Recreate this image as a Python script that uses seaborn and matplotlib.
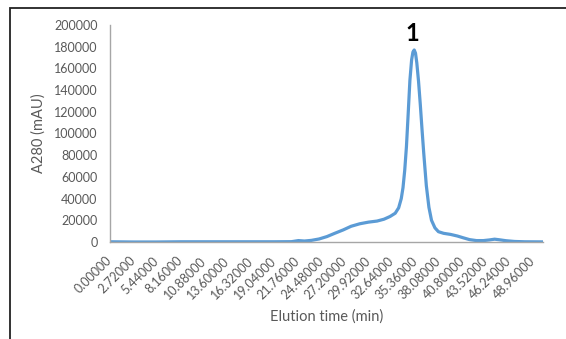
"""Size-exclusion chromatogram, A280 vs elution time"""

import seaborn as sns
import pandas as pd
import matplotlib.pyplot as plt
from matplotlib.patches import Rectangle

time_min = [0.0, 2.7, 5.4, 8.2, 10.9, 13.6, 16.3, 19.0, 21.0, 21.8, 22.5,
            23.3, 24.2, 25.1, 26.0, 27.0, 27.9, 28.9, 29.9, 30.9, 31.7, 32.4,
            33.0, 33.4, 33.7, 33.9, 34.1, 34.3, 34.5, 34.7, 34.9, 35.05, 35.2,
            35.35, 35.5, 35.7, 35.9, 36.1, 36.3, 36.6, 36.9, 37.2, 37.6, 38.0,
            38.6, 39.4, 40.2, 40.9, 41.6, 42.4, 43.2, 43.9, 44.5, 45.1, 45.8,
            46.8, 48.0, 50.1]
a280 = [200, 0, 0, 200, 200, 200, 200, 200, 300, 1300, 900,
        1500, 2800, 5000, 8000, 11200, 14500, 16800, 18300, 19300, 21000, 23500,
        26500, 31500, 40000, 50000, 66000, 88000, 118000, 149000, 168000, 175000, 177000,
        174000, 165000, 148000, 127000, 104000, 82000, 52000, 32000, 20000, 13000, 9500,
        8000, 7000, 5500, 3800, 2200, 1300, 1300, 1900, 2600, 2000, 1200,
        500, 200, 100]

x_ticks = [0.0, 2.72, 5.44, 8.16, 10.88, 13.6, 16.32, 19.04, 21.76, 24.48,
           27.2, 29.92, 32.64, 35.36, 38.08, 40.8, 43.52, 46.24, 48.96]
y_ticks = [0, 20000, 40000, 60000, 80000, 100000, 120000, 140000, 160000,
           180000, 200000]
peak_label = "1"
peak_pos = (35.0, 182000)

sns.set_style("white")
plt.rcParams['font.family'] = ['Lato', 'DejaVu Sans']

df = pd.DataFrame({"time": time_min, "a280": a280})

fig = plt.figure(figsize=(5.66, 3.39), dpi=100)
ax = fig.add_axes([110 / 566, 1 - 242 / 339, 433 / 566, 217 / 339])

sns.lineplot(data=df, x="time", y="a280", ax=ax, color="#5B9BD5", lw=2.3)

ax.set_xlim(0, 50.1)
ax.set_ylim(0, 200000)
ax.set_xticks(x_ticks)
ax.set_xticklabels([f"{t:.5f}" for t in x_ticks], rotation=45, ha="right",
                   va="center", rotation_mode="anchor")
ax.set_yticks(y_ticks)
ax.set_yticklabels([str(v) for v in y_ticks])
ax.tick_params(axis="both", length=0, labelsize=9, colors="#595959")
ax.tick_params(axis="x", pad=12)
ax.tick_params(axis="y", pad=9)

for side in ["top", "right"]:
    ax.spines[side].set_visible(False)
ax.spines["left"].set_color("#A6A6A6")
ax.spines["bottom"].set_color("#A6A6A6")
ax.spines["left"].set_linewidth(1.0)
ax.spines["bottom"].set_linewidth(1.0)

ax.set_xlabel("Elution time (min)", fontsize=10.5, color="#595959", labelpad=6)
ax.set_ylabel("A280 (mAU)", fontsize=10.5, color="#595959", labelpad=6)

ax.text(peak_pos[0], peak_pos[1], peak_label, fontsize=17, fontweight="bold",
        ha="center", va="bottom", color="black")

# outer frame (cut off at right and bottom)
fig.add_artist(Rectangle((10 / 566, -0.2), 1.5, 1.2 - 8 / 339, fill=False,
                         ec="#222222", lw=1.3, transform=fig.transFigure))

plt.savefig("out.png", dpi=100)
plt.close()
